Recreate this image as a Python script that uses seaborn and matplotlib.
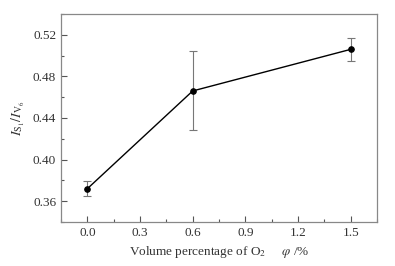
import numpy as np
import pandas as pd
import matplotlib
matplotlib.use("Agg")
import matplotlib.pyplot as plt
import seaborn as sns
from matplotlib.ticker import MultipleLocator

# -------------------------
# Data
# -------------------------
o2_percent = [0.0, 0.6, 1.5]
ratio = [0.372, 0.466, 0.506]
ratio_err = [0.007, 0.038, 0.011]

df = pd.DataFrame({"o2": o2_percent, "ratio": ratio, "err": ratio_err})

# -------------------------
# Style
# -------------------------
sns.set_style("white")
plt.rcParams["font.family"] = ["Liberation Serif", "DejaVu Serif"]
plt.rcParams["mathtext.fontset"] = "stix"

fig = plt.figure(figsize=(3.95, 2.66), dpi=100)
ax = fig.add_axes([61 / 395, 1 - 222 / 266, (377 - 61) / 395, (222 - 14) / 266])

ax.errorbar(df["o2"], df["ratio"], yerr=df["err"], fmt="none",
            ecolor="#777777", elinewidth=0.8, capsize=3, capthick=0.8, zorder=1)
sns.lineplot(data=df, x="o2", y="ratio", ax=ax, color="black", linewidth=1.0,
             marker="o", markersize=4, markeredgecolor="black", zorder=2)

ax.set_xlim(-0.15, 1.65)
ax.set_ylim(0.34, 0.54)
ax.xaxis.set_major_locator(MultipleLocator(0.3))
ax.xaxis.set_minor_locator(MultipleLocator(0.15))
ax.yaxis.set_major_locator(MultipleLocator(0.04))
ax.yaxis.set_minor_locator(MultipleLocator(0.02))
ax.xaxis.set_major_formatter(plt.FormatStrFormatter("%.1f"))
ax.yaxis.set_major_formatter(plt.FormatStrFormatter("%.2f"))

ax.tick_params(which="both", direction="in", bottom=True, left=True,
               top=False, right=False,
               color="#555555", labelsize=9.5, labelcolor="#333333")
ax.tick_params(which="major", length=4, width=0.8)
ax.tick_params(which="minor", length=2, width=0.8)
for s in ax.spines.values():
    s.set_color("#888888")
    s.set_linewidth(0.9)

ax.set_xlabel(r"Volume percentage of O$_2$     $\varphi$ /%", fontsize=9.5, color="#333333")
ax.set_ylabel(r"$I_{\mathrm{S_1}}/I_{\mathrm{V_6}}$", fontsize=10, color="#333333")

plt.savefig("out.png", dpi=100)
